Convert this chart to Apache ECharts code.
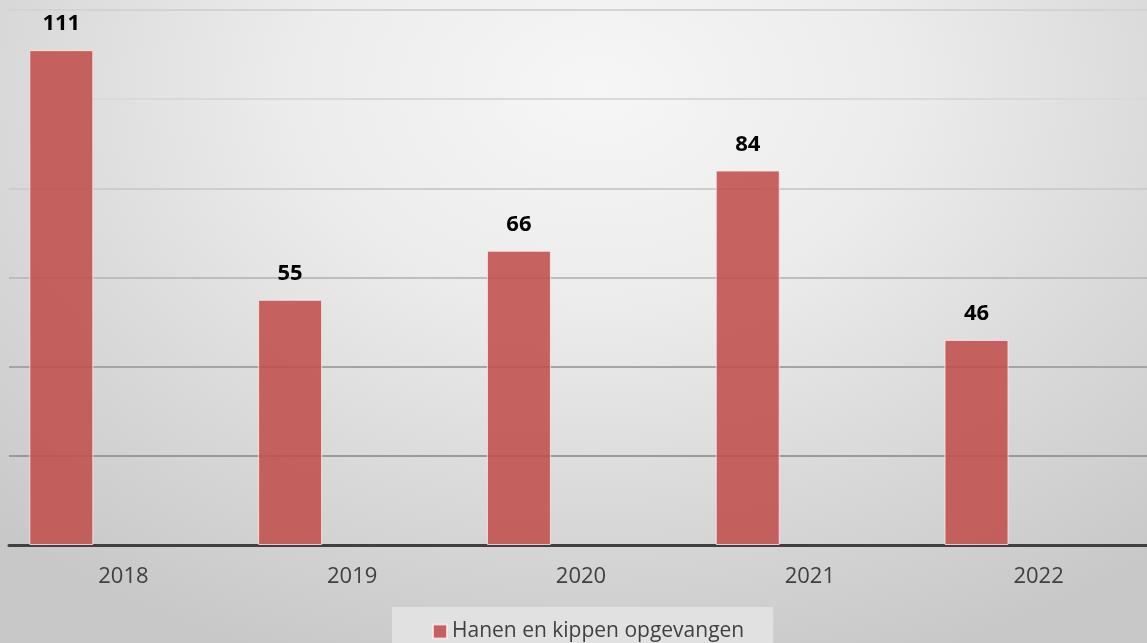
<!DOCTYPE html>
<html>
<head>
<meta charset="utf-8">
<script src="https://cdn.jsdelivr.net/npm/echarts@6/dist/echarts.min.js"></script>
<style>
	html, body { margin: 0; padding: 0; overflow: hidden; }
	#wrap {
		width: 1147px; height: 643px; overflow: hidden;
		background: radial-gradient(ellipse 75% 95% at 52% 14%, #f6f6f6 0%, #ececec 35%, #d8d8d8 70%, #c8c8c8 100%);
	}
	/* 画布比窗口宽，轴线伸出右边 */
	#chart { width: 1160px; height: 643px; }
</style>
</head>
<body>
<div id="wrap"><div id="chart"></div></div>
<script>
	//数据
	var jaren = ['2018', '2019', '2020', '2021', '2022'];
	var opgevangen = [111, 55, 66, 84, 46];
	var leeg = ['-', '-', '-', '-', '-'];	//Excel 留出的空位
	var serieNaam = 'Hanen en kippen opgevangen';

	var font = '"Open Sans", sans-serif';

	var chart = echarts.init(document.getElementById('chart'));

	chart.setOption({
		backgroundColor: 'transparent',
		animation: false,
		grid: { left: 9, right: 7, top: 10, bottom: 98 },
		legend: {
			data: [{ name: serieNaam, icon: 'rect' }],
			left: 392,
			top: 607,
			padding: [14, 29, 12, 40],
			backgroundColor: '#e1e1e1',
			itemWidth: 14,
			itemHeight: 14,
			itemGap: 6,
			textStyle: { fontFamily: font, fontSize: 21, color: '#404040' }
		},
		xAxis: {
			type: 'category',
			data: jaren,
			axisLine: { lineStyle: { color: '#404040', width: 3 } },
			axisTick: { show: false },
			axisLabel: { fontFamily: font, fontSize: 22, color: '#404040', margin: 21 }
		},
		yAxis: {
			type: 'value',
			min: 0,
			max: 120,
			interval: 20,
			axisLabel: { show: false },
			axisLine: { show: false },
			axisTick: { show: false },
			splitLine: {
				lineStyle: {
					width: 2,
					color: ['#404040', '#9a9a9a', '#a4a4a4', '#bdbdbd', '#cdcdcd', '#d9d9d9', '#d3d3d3']
				}
			}
		},
		series: [{
			name: serieNaam,
			type: 'bar',
			data: opgevangen,
			barWidth: 64,
			barGap: '94%',
			itemStyle: {
				color: 'rgba(192, 80, 77, 0.88)',
				borderColor: 'rgba(255, 235, 235, 0.8)',
				borderWidth: 1
			},
			label: {
				show: true,
				position: 'top',
				distance: 15,
				fontFamily: font,
				fontSize: 22,
				fontWeight: 'bold',
				color: '#000'
			}
		}, {
			name: 'leeg',
			type: 'bar',
			data: leeg,
			barWidth: 64
		}]
	});
</script>
</body>
</html>
